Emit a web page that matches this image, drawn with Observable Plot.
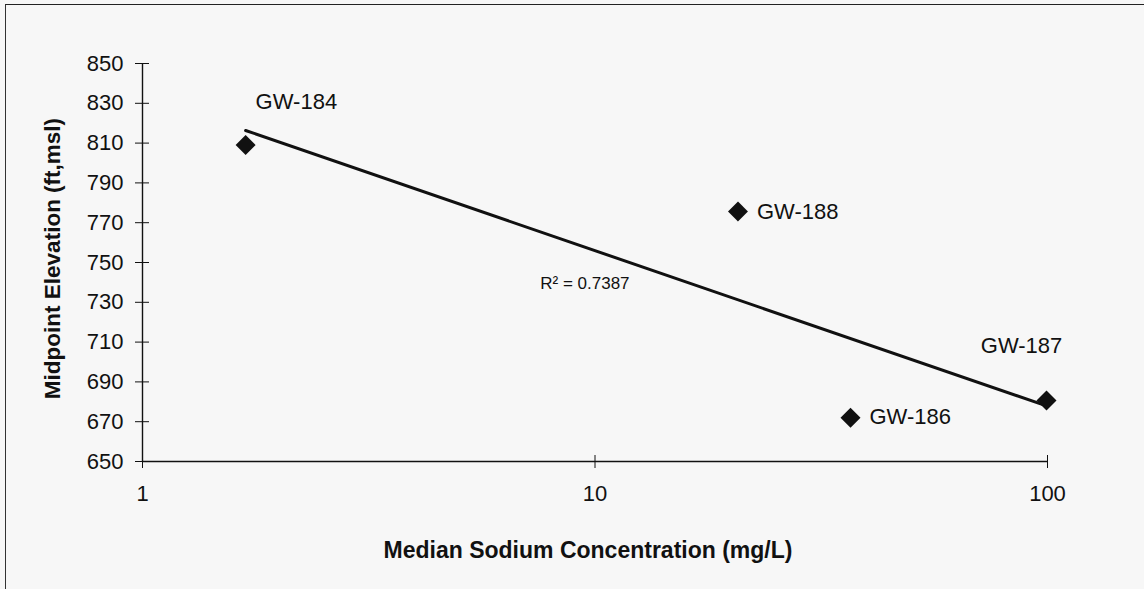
<!DOCTYPE html>
<html>
<head>
<meta charset="utf-8">
<script src="https://cdn.jsdelivr.net/npm/d3@7"></script>
<script src="https://cdn.jsdelivr.net/npm/@observablehq/plot@0.6"></script>
<style>
  html, body { margin: 0; padding: 0; background: #f7f7f7; }
  #wrap { position: relative; width: 1144px; height: 589px; overflow: hidden; }
  #border { position: absolute; left: 5px; top: 4px; width: 1200px; height: 700px;
            border-top: 1.5px solid #222; border-left: 1.5px solid #333; pointer-events: none; }
  svg { display: block; }
</style>
</head>
<body>
<div id="wrap"><div id="border"></div></div>
<script>
// ---- data ----
const wells = ["GW-184", "GW-188", "GW-186", "GW-187"];
const sodium = [1.69, 20.7, 36.7, 99.5];          // median sodium (mg/L)
const elevation = [809, 775.6, 672, 680.7];       // midpoint elevation (ft, msl)
const xTicks = [1, 10, 100];
const yTicks = [650, 670, 690, 710, 730, 750, 770, 790, 810, 830, 850];
const xTitle = "Median Sodium Concentration (mg/L)";
const yTitle = "Midpoint Elevation (ft,msl)";
const r2Text = "R² = 0.7387";

const data = wells.map((w, i) => ({name: w, x: sodium[i], y: elevation[i]}));

// logarithmic trendline (least squares on log10 x), as Excel draws it
const lx = sodium.map(Math.log10);
const mx = d3.mean(lx), my = d3.mean(elevation);
const sxy = d3.sum(lx, (v, i) => (v - mx) * (elevation[i] - my));
const sxx = d3.sum(lx, v => (v - mx) ** 2);
const slope = sxy / sxx, intercept = my - slope * mx;
const fit = x => intercept + slope * Math.log10(x);
const xExt = d3.extent(sodium);
const trend = xExt.map(x => ({x, y: fit(x)}));
const r2Pos = {x: 9.5, y: fit(9.5)};

const font = "'Liberation Sans', Arial, Helvetica, sans-serif";

const chart = Plot.plot({
  width: 1144,
  height: 589,
  marginLeft: 142,
  marginRight: 97,
  marginTop: 63,
  marginBottom: 128,
  style: {fontFamily: font, fontSize: "22px", background: "transparent", color: "#111"},
  x: {type: "log", domain: [1, 100]},
  y: {domain: [650, 850]},
  marks: [
    Plot.ruleY([650], {stroke: "#111", strokeWidth: 1.6}),
    Plot.ruleX([1], {stroke: "#111", strokeWidth: 1.4}),
    // crossing tick marks
    Plot.axisX({ticks: xTicks, tickSize: 13, dy: -6, tickFormat: () => "", label: null, stroke: "#111"}),
    Plot.axisY({ticks: yTicks, tickSize: 14, dx: 7, tickFormat: () => "", label: null, stroke: "#111"}),
    // tick labels
    Plot.axisX({ticks: xTicks, tickSize: 0, tickPadding: 24, tickFormat: d => String(d), label: null, fontSize: 22}),
    Plot.axisY({ticks: yTicks, tickSize: 0, tickPadding: 19, tickFormat: d => String(d), label: null, fontSize: 22}),
    // axis titles
    Plot.text([xTitle], {frameAnchor: "bottom", lineAnchor: "middle", textAnchor: "middle", dy: 89, dx: -7, text: d => d, fontWeight: "bold", fontSize: 23, fill: "#111"}),
    Plot.text([yTitle], {frameAnchor: "left", lineAnchor: "middle", textAnchor: "middle", rotate: -90, dx: -90, dy: -4, text: d => d, fontWeight: "bold", fontSize: 22.5, fill: "#111"}),
    // trendline
    Plot.line(trend, {x: "x", y: "y", stroke: "#111", strokeWidth: 3}),
    // points
    Plot.dot(data, {x: "x", y: "y", symbol: "diamond2", r: 9, fill: "#111", stroke: "none"}),
    // point labels
    Plot.text([data[0]], {x: "x", y: "y", text: "name", textAnchor: "start", dx: 10, dy: -43, fontSize: 22, fill: "#111"}),
    Plot.text([data[1]], {x: "x", y: "y", text: "name", textAnchor: "start", dx: 19, dy: 0, fontSize: 22, fill: "#111"}),
    Plot.text([data[2]], {x: "x", y: "y", text: "name", textAnchor: "start", dx: 19, dy: -1, fontSize: 22, fill: "#111"}),
    Plot.text([data[3]], {x: "x", y: "y", text: "name", textAnchor: "middle", dx: -25, dy: -54, fontSize: 22, fill: "#111"}),
    // R² label
    Plot.text([r2Pos], {x: "x", y: "y", text: () => r2Text, dy: 36, fontSize: 17, fill: "#111"})
  ]
});
document.getElementById("wrap").prepend(chart);
</script>
</body>
</html>
